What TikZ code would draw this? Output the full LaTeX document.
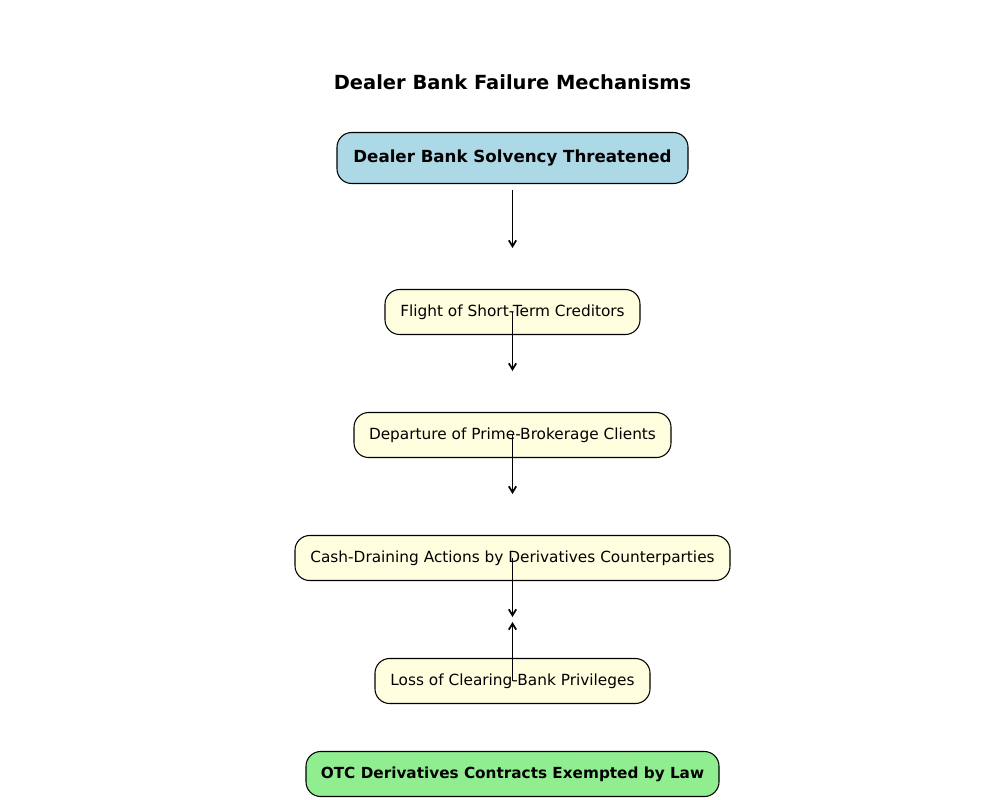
\documentclass[tikz,border=0pt]{standalone}
\usepackage{fontspec}
\setmainfont{DejaVu Sans}
\usetikzlibrary{arrows.meta}
\definecolor{lblue}{HTML}{ADD8E6}
\definecolor{lyellow}{HTML}{FFFFE0}
\definecolor{lgreen}{HTML}{90EE90}
\tikzset{
  box/.style={draw=black, line width=0.8pt, rounded corners=11pt, inner sep=0pt, align=center, font=\fontsize{11.5pt}{13pt}\selectfont},
  conn/.style={-{Straight Barb[length=4.5pt,width=5.5pt]}, line width=1.3pt},
}
\begin{document}
\begin{tikzpicture}[x=0.75pt,y=-0.75pt]
\useasboundingbox (0,0) rectangle (1000,800);
\node[font=\bfseries\fontsize{14.6pt}{17pt}\selectfont] (title) at (512.5,82.5) {Dealer Bank Failure Mechanisms};
\node[box, fill=lblue, minimum width=351*0.75pt, minimum height=51*0.75pt, font=\bfseries\fontsize{12.5pt}{14pt}\selectfont] (b1) at (512.5,158) {Dealer Bank Solvency Threatened};
\node[box, fill=lyellow, minimum width=255*0.75pt, minimum height=45*0.75pt] (b2) at (512.5,312) {Flight of Short-Term Creditors};
\node[box, fill=lyellow, minimum width=317*0.75pt, minimum height=45*0.75pt] (b3) at (512.5,435) {Departure of Prime-Brokerage Clients};
\node[box, fill=lyellow, minimum width=435*0.75pt, minimum height=45*0.75pt] (b4) at (512.5,558) {Cash-Draining Actions by Derivatives Counterparties};
\node[box, fill=lyellow, minimum width=275*0.75pt, minimum height=45*0.75pt] (b5) at (512.5,681) {Loss of Clearing-Bank Privileges};
\node[box, fill=lgreen, minimum width=413*0.75pt, minimum height=45*0.75pt, font=\bfseries\fontsize{11.45pt}{13pt}\selectfont] (b6) at (512.5,774) {OTC Derivatives Contracts Exempted by Law};
\coordinate (s1) at (512.5,190);
\coordinate (e1) at (512.5,248);
\coordinate (e2) at (512.5,371);
\coordinate (e3) at (512.5,494);
\coordinate (e4) at (512.5,617);
\coordinate (e5) at (512.5,622);
\draw[conn] (s1) -- (e1);
\draw[conn] (b2.center) -- (e2);
\draw[conn] (b3.center) -- (e3);
\draw[conn] (b4.center) -- (e4);
\draw[conn] (b5.center) -- (e5);
\end{tikzpicture}
\end{document}
